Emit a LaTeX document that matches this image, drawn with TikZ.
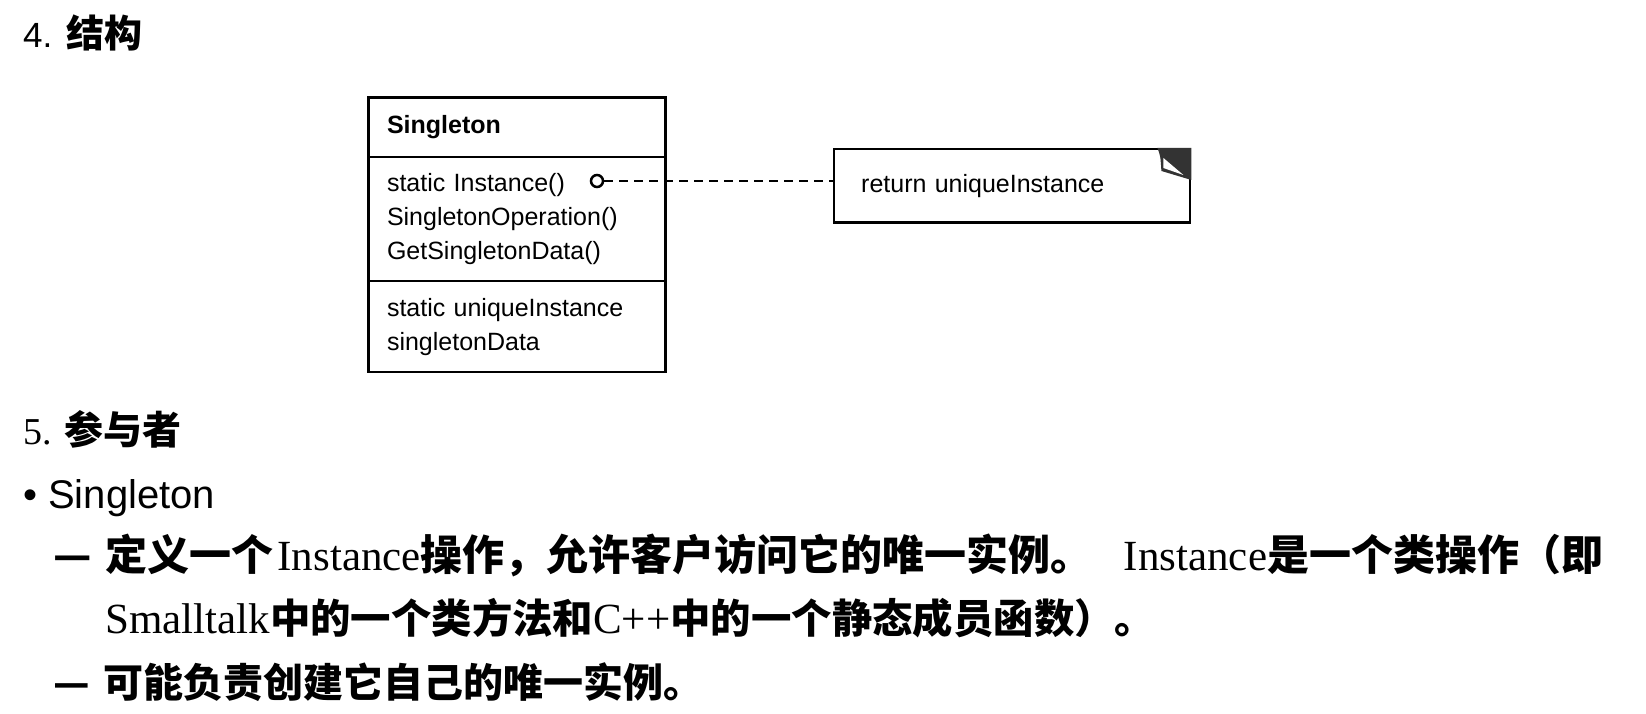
\documentclass[tikz,border=0pt]{standalone}
\usepackage{fontspec}
\setmainfont{Liberation Serif}
\setsansfont{Liberation Sans}
\newfontfamily\zhfont{Noto Sans CJK SC}
\usepackage{tikz}
\usetikzlibrary{positioning}

\newcommand{\entext}[1]{{\rmfamily\mdseries\fontsize{43}{48}\selectfont #1}}

\begin{document}
\begin{tikzpicture}[x=1pt,y=-1pt,
  txt/.style={anchor=base west,inner sep=0pt},
  class part/.style={rectangle,draw,line width=2.6pt,outer sep=0pt,
    text width=260pt,inner xsep=18.5pt,inner ysep=0pt,align=left,
    font=\sffamily\fontsize{25}{34}\selectfont},
  note node/.style={rectangle,draw,line width=2.4pt,anchor=north west,
    minimum width=356pt,minimum height=73.5pt,text width=302pt,
    inner xsep=27pt,align=left,font=\sffamily\fontsize{25}{34}\selectfont},
  port/.style={circle,draw,fill=white,line width=2.5pt,inner sep=0pt,minimum size=12pt},
  link/.style={line width=2.5pt,dash pattern=on 9pt off 6pt}]

  \useasboundingbox (0,0) rectangle (1646,714);

  % 4. structure
  \node[txt] (h4) at (23,48) {{\sffamily\fontsize{35}{40}\selectfont 4.}\hspace{14pt}{\zhfont\bfseries\fontsize{38}{40}\selectfont 结构}};

  \node[class part,anchor=north west,minimum height=59.5pt,font=\sffamily\bfseries\fontsize{25}{34}\selectfont] (head) at (368.5,97.6) {Singleton};
  \node[class part,below=0pt of head,minimum height=124pt] (ops) {static Instance()\\SingletonOperation()\\GetSingletonData()};
  \node[class part,below=0pt of ops,minimum height=91pt] (attrs) {static uniqueInstance\\singletonData};

  \node[note node] (note) at (833,148) {return uniqueInstance};
  \fill[black!80] ([xshift=-34pt]note.north east) -- (note.north east) -- ([yshift=-32pt]note.north east)
    -- ([xshift=-30pt,yshift=-23pt]note.north east) .. controls ([xshift=-31pt,yshift=-8pt]note.north east) .. ([xshift=-34pt]note.north east) -- cycle;
  \fill[white] ([xshift=-28pt,yshift=-10pt]note.north east) -- ([xshift=-28pt,yshift=-20pt]note.north east) -- ([xshift=-8pt,yshift=-27pt]note.north east) -- cycle;

  \node[port] (port) at (597,181) {};
  \path (port) edge[link] (port -| note.west);

  % 5. participants
  \node[txt] (h5) at (23,444) {{\rmfamily\fontsize{38}{40}\selectfont 5.}\hspace{13pt}{\zhfont\bfseries\fontsize{39}{40}\selectfont 参与者}};
  \node[txt] (item) at (23,508) {\sffamily\fontsize{40}{44}\selectfont • Singleton};
  \node[txt] (line1) at (53,570) {\zhfont\bfseries\fontsize{42}{48}\selectfont —\hspace{14pt}定义一个\hspace{4pt}\entext{Instance}操作，允许客户访问它的唯一实例。\hspace{31pt}\entext{Instance}是一个类操作（即};
  \node[txt] (line2) at (105,633) {\zhfont\bfseries\fontsize{40.4}{48}\selectfont \entext{Smalltalk}中的一个类方法和\entext{C++}中的一个静态成员函数）。};
  \node[txt] (line3) at (53,697) {\zhfont\bfseries\fontsize{40}{48}\selectfont —\hspace{14pt}可能负责创建它自己的唯一实例。};
\end{tikzpicture}
\end{document}
